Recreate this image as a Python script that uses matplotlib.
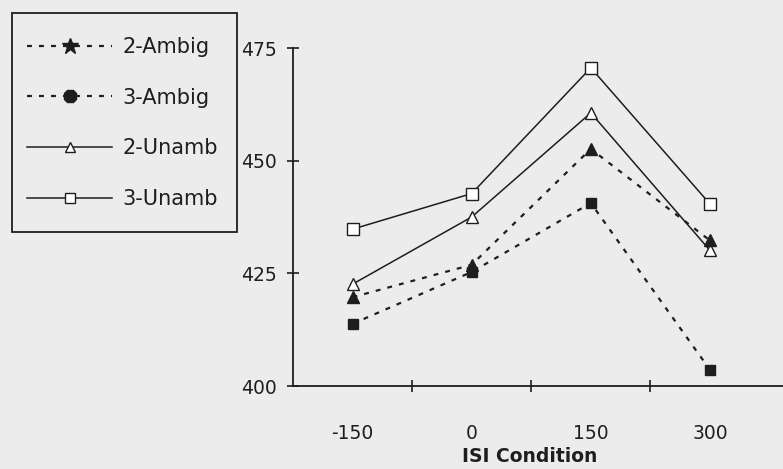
import matplotlib
matplotlib.use("Agg")
import matplotlib.pyplot as plt
from matplotlib.lines import Line2D
from matplotlib.patches import Rectangle

categories = ["-150", "0", "150", "300"]
ambig2 = [419.7, 426.9, 452.6, 432.3]
ambig3 = [413.8, 425.3, 440.6, 403.6]
unamb2 = [422.6, 437.5, 460.6, 430.1]
unamb3 = [434.8, 442.7, 470.6, 440.4]
yticks = [400, 425, 450, 475]
series_names = ["2-Ambig", "3-Ambig", "2-Unamb", "3-Unamb"]

bg = "#ececec"
ink = "#1e1e1e"
plt.rcParams['font.family'] = ['DejaVu Sans']

W, H = 783, 469
fig = plt.figure(figsize=(W/100, H/100), dpi=100, facecolor=bg)
ax = fig.add_axes([293/W, (H-386)/H, (W-293)/W, (386-48)/H])
ax.set_facecolor(bg)

x = list(range(len(categories)))
dash = (0, (2.2, 3.2))
ax.plot(x, unamb3, color=ink, lw=1.1, marker='s', ms=8, mfc='white', mec=ink, mew=1.0, zorder=3)
ax.plot(x, unamb2, color=ink, lw=1.1, marker='^', ms=8, mfc='white', mec=ink, mew=1.0, zorder=3)
ax.plot(x, ambig2, color=ink, lw=1.6, ls=dash, marker='^', ms=8, mfc=ink, mec=ink, zorder=3)
ax.plot(x, ambig3, color=ink, lw=1.6, ls=dash, marker='s', ms=7, mfc=ink, mec=ink, zorder=3)

ax.set_ylim(400, 475)
ax.set_xlim(-0.5, (W-353)/119)
ax.set_yticks(yticks)
ax.set_yticklabels([str(v) for v in yticks], fontsize=13.5, color=ink)
ax.set_xticks([0.5, 1.5, 2.5])
ax.set_xticklabels([])
ax.set_xticks(x, minor=True)
ax.set_xticklabels(categories, minor=True, fontsize=13.5, color=ink)
ax.tick_params(axis='x', which='minor', length=0, pad=27)
ax.tick_params(axis='x', which='major', direction='inout', length=8, width=1.2, color=ink)
ax.tick_params(axis='y', direction='inout', length=8, width=1.2, color=ink, pad=8)
for s in ['top', 'right']:
    ax.spines[s].set_visible(False)
for s in ['left', 'bottom']:
    ax.spines[s].set_color(ink)
    ax.spines[s].set_linewidth(1.3)

ax.set_xlabel("ISI Condition", fontsize=13.5, fontweight='bold', color=ink)
ax.xaxis.set_label_coords((530-293)/(W-293), -(447-386)/(386-48), transform=ax.transAxes)

handles = [
    Line2D([], [], color=ink, lw=1.6, ls=dash, marker='*', ms=12, mfc=ink, mec=ink),
    Line2D([], [], color=ink, lw=1.6, ls=dash, marker='8', ms=10, mfc=ink, mec=ink),
    Line2D([], [], color=ink, lw=1.1, marker='^', ms=7, mfc='white', mec=ink),
    Line2D([], [], color=ink, lw=1.1, marker='s', ms=7, mfc='white', mec=ink),
]
# legend frame drawn separately
fig.patches.append(Rectangle((12/W, 1-232/H), (237-12)/W, (232-13)/H,
                             transform=fig.transFigure, fill=False,
                             edgecolor=ink, linewidth=1.3))
leg = fig.legend(handles, series_names, loc='upper left',
                 bbox_to_anchor=(27/W, 1-37/H), fontsize=15,
                 frameon=False, handlelength=4.1, handletextpad=0.48,
                 labelspacing=1.47, borderpad=0, borderaxespad=0)
for t in leg.get_texts():
    t.set_color(ink)

fig.savefig("out.png", dpi=100, facecolor=bg)
